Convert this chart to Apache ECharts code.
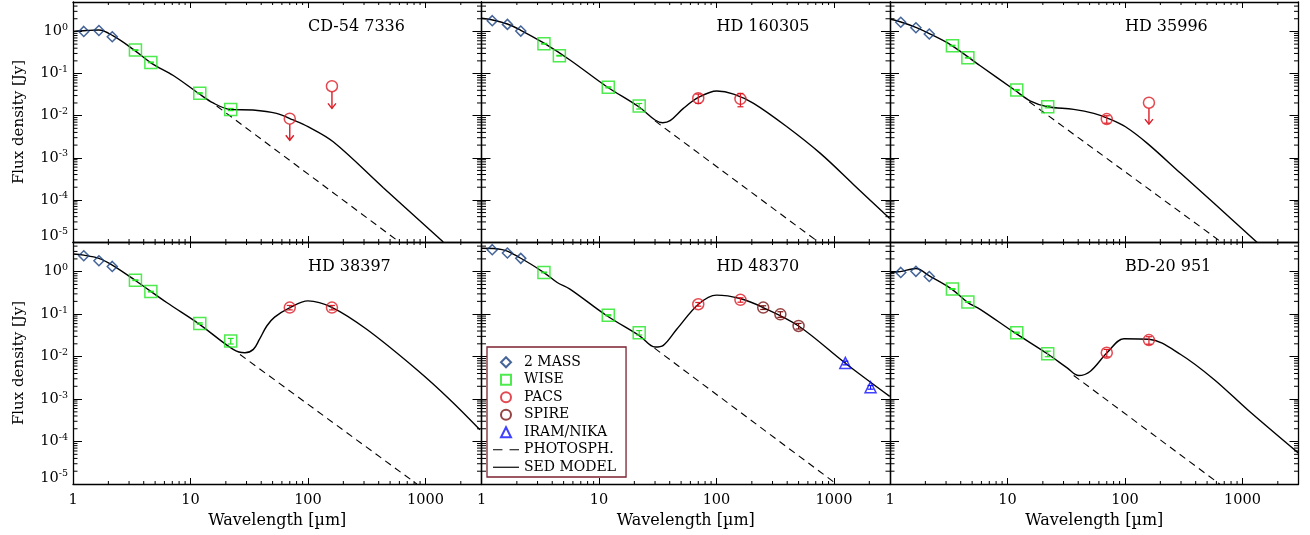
<!DOCTYPE html>
<html>
<head>
<meta charset="utf-8">
<script src="https://cdn.jsdelivr.net/npm/echarts@6/dist/echarts.min.js"></script>
<style>html,body{margin:0;padding:0;background:#fff}#chart{width:1310px;height:535px}</style>
</head>
<body>
<div id="chart"></div>
<script>
// star names, one panel each (row by row)
var stars = ['CD-54 7336', 'HD 160305', 'HD 35996', 'HD 38397', 'HD 48370', 'BD-20 951'];

// photometric bands [micron]
var wl2mass = [1.235, 1.662, 2.159];
var wlWise = [3.4, 4.6, 12, 22];
var wlPacs = [70, 160];
var wlSpire = [250, 350, 500];
var wlNika = [1250, 2050];

// fluxes [Jy], one row per star (null = no point)
var flux2mass = [
  [1.0, 1.05, 0.75],
  [1.8, 1.47, 1.02],
  [1.65, 1.22, 0.87],
  [2.38, 1.81, 1.33],
  [3.3, 2.75, 2.06],
  [0.96, 1.02, 0.77]
];
var fluxWise = [
  [0.36, 0.184, 0.034, 0.014],
  [0.51, 0.265, 0.047, 0.0169],
  [0.46, 0.237, 0.0406, 0.0163],
  [0.63, 0.34, 0.060, 0.0233],
  [0.96, null, 0.094, 0.0366],
  [0.39, 0.194, 0.0366, 0.0117]
];
var fluxPacs = [
  [0.0085, 0.05],
  [0.026, 0.025],
  [0.0083, 0.0203],
  [0.143, 0.143],
  [0.171, 0.217],
  [0.0123, 0.0245]
];
// upper limits: where the arrow tip ends (null = detection)
var pacsLimitTip = [
  [0.0026, 0.0149],
  [null, null],
  [null, 0.0063],
  [null, null],
  [null, null],
  [null, null]
];
var fluxSpire = [null, null, null, null, [0.143, 0.099, 0.0526], null];
var fluxNika = [null, null, null, null, [0.0071, 0.0019], null];

// relative 1-sigma errors
var errWise = [
  [0.02, 0.02, 0.03, 0.06],
  [0.02, 0.02, 0.03, 0.15],
  [0.02, 0.02, 0.03, 0.06],
  [0.02, 0.02, 0.04, 0.15],
  [0.02, null, 0.03, 0.12],
  [0.02, 0.02, 0.03, 0.15]
];
var errPacs = [
  [null, null],
  [0.25, 0.35],
  [0.2, null],
  [0.12, 0.12],
  [0.1, 0.12],
  [0.2, 0.2]
];
var errSpire = [null, null, null, null, [0.1, 0.15, 0.15], null];
var errNika = [null, null, null, null, [0.1, 0.1], null];

// SED model curves [micron, Jy]
var model0 = [[1,1.0],[1.3,1.05],[1.66,1.08],[2.2,0.78],[3.26,0.375],[4.67,0.175],[7.14,0.09],[11.7,0.034],[15.6,0.020],[21.7,0.0141],[34,0.0136],[54,0.0113],[75,0.0079],[100,0.0055],[164,0.0024],[438,1.95e-4],[1419,1e-5]];
var model1 = [[1,2.05],[1.22,1.9],[1.66,1.5],[2.14,1.08],[3.35,0.54],[5.66,0.21],[11.5,0.050],[22.1,0.0158],[30,0.0079],[34.9,0.0068],[40.3,0.0076],[52.3,0.0149],[70.3,0.027],[100.7,0.0384],[140,0.0326],[207,0.0196],[398,0.00545],[766,0.00127],[1472,2.3e-4],[2985,3.6e-5]];
var model2 = [[1,1.97],[1.22,1.7],[1.66,1.25],[2.16,0.89],[3.31,0.475],[5.86,0.153],[11.5,0.0406],[15.7,0.0222],[22,0.0163],[36.6,0.0141],[54.3,0.0113],[75.3,0.0082],[101,0.00545],[155,0.0022],[298,4.27e-4],[573,8.3e-5],[1343,9.6e-6]];
var model3 = [[1,2.6],[1.235,2.45],[1.66,2.06],[2.16,1.43],[3.37,0.63],[6.27,0.188],[11.7,0.060],[23.1,0.0148],[29.1,0.0123],[34.3,0.0148],[38.5,0.025],[44.6,0.0526],[52,0.085],[70.3,0.143],[100,0.205],[161,0.143],[316,0.044],[841,0.00498],[1617,9.7e-4],[2910,1.9e-4]];
var model4 = [[1,3.55],[1.5,3.3],[2.14,2.1],[3.35,0.98],[4.41,0.557],[5.66,0.388],[11.5,0.094],[22.3,0.0305],[30,0.0168],[35.3,0.0184],[45.9,0.044],[70.3,0.171],[100,0.28],[159,0.233],[250,0.143],[500,0.0526],[1250,0.0070],[2985,0.00116]];
var model5 = [[1,0.96],[1.22,1.0],[1.66,1.19],[2.16,0.8],[3.31,0.40],[4.57,0.19],[5.86,0.13],[11.5,0.0366],[22,0.0115],[32.2,0.00545],[40.4,0.00359],[50.8,0.00454],[70.3,0.0123],[98,0.0264],[160,0.0256],[298,0.0112],[573,0.0029],[1106,5.6e-4],[2985,5.4e-5]];
var models = [model0, model1, model2, model3, model4, model5];

// photosphere (where it leaves the model)
var photos = [
  [[16.7,0.017],[600,1.0e-5]],
  [[30,0.0075],[720,1.05e-5]],
  [[15.3,0.0214],[660,1.0e-5]],
  [[26.4,0.0112],[845,1.0e-5]],
  [[29.7,0.0158],[1050,1.0e-5]],
  [[36.6,0.0036],[640,1.0e-5]]
];

// axis ticks
var xDecades = [1, 10, 100, 1000];
var yDecades = [1e-5, 1e-4, 1e-3, 1e-2, 1e-1, 1];
var mant = [2, 3, 4, 5, 6, 7, 8, 9];

var FONT = 'DejaVu Serif';
var C2MASS = '#173f80', CWISE = '#22e622', CPACS = '#dc1c26', CSPIRE = '#7a1414', CNIKA = '#1010ff';

function minorOf(majors, lo, hi) {
  var out = [];
  majors.forEach(function (m) {
    mant.forEach(function (k) {
      var v = m * k;
      if (v > lo && v < hi) out.push(v);
    });
  });
  return out;
}
var xMinor = minorOf(xDecades, 1, 3000);
var yMinor = minorOf(yDecades, 1e-5, 5);
// minor tick specs: [x, y, which axis (0 = x, 1 = y)]
var minorTicks = xMinor.map(function (v) { return [v, 1, 0]; })
  .concat(yMinor.map(function (v) { return [10, v, 1]; }));

function pairs(wl, fl) {
  var out = [];
  if (!fl) return out;
  for (var i = 0; i < wl.length; i++) if (fl[i] != null) out.push([wl[i], fl[i]]);
  return out;
}
function errs(wl, fl, er) {
  var out = [];
  if (!fl || !er) return out;
  for (var i = 0; i < wl.length; i++) {
    if (fl[i] != null && er[i] != null) out.push([wl[i], fl[i] * (1 - er[i]), fl[i] * (1 + er[i])]);
  }
  return out;
}

var gridLeft = [73, 481.5, 890];
var gridTop = [2, 242];
var gridH = [240, 242];
var gridW = 408.5;

var grids = [], xAxes = [], yAxes = [], series = [], titles = [];

function yLabel(v) {
  var lg = Math.log10(v), e = Math.round(lg);
  if (Math.abs(lg - e) > 1e-6) return '';
  if (e === -5) return '{bl|10}{bs|' + e + '}';
  return '{b|10}{s|' + e + '}';
}
function xLabel(v) {
  var lg = Math.log10(v);
  if (Math.abs(lg - Math.round(lg)) > 1e-6) return '';
  return String(Math.round(v));
}

function renderMinor(params, api) {
  var cs = params.coordSys;
  var st = {stroke: '#000', lineWidth: 1};
  if (api.value(2) === 0) {
    var x = api.coord([api.value(0), 1])[0];
    return {type: 'group', children: [
      {type: 'line', shape: {x1: x, y1: cs.y + cs.height, x2: x, y2: cs.y + cs.height - 3}, style: st},
      {type: 'line', shape: {x1: x, y1: cs.y, x2: x, y2: cs.y + 3}, style: st}
    ]};
  }
  var y = api.coord([10, api.value(1)])[1];
  return {type: 'group', children: [
    {type: 'line', shape: {x1: cs.x, y1: y, x2: cs.x + 4.5, y2: y}, style: st},
    {type: 'line', shape: {x1: cs.x + cs.width, y1: y, x2: cs.x + cs.width - 4.5, y2: y}, style: st}
  ]};
}

function makeLimitRenderer(color) {
  return function (params, api) {
    var p = api.coord([api.value(0), api.value(1)]);
    var q = api.coord([api.value(0), api.value(2)]);
    var st = {stroke: color, lineWidth: 1.4, fill: 'none'};
    return {type: 'group', children: [
      {type: 'line', shape: {x1: p[0], y1: p[1] + 5.5, x2: q[0], y2: q[1]}, style: st},
      {type: 'polyline', shape: {points: [[q[0] - 4, q[1] - 5], [q[0], q[1]], [q[0] + 4, q[1] - 5]]}, style: st}
    ]};
  };
}
function makeErrRenderer(color) {
  return function (params, api) {
    var lo = api.coord([api.value(0), api.value(1)]);
    var hi = api.coord([api.value(0), api.value(2)]);
    var st = {stroke: color, lineWidth: 1.2, fill: 'none'};
    var x = lo[0];
    return {type: 'group', children: [
      {type: 'line', shape: {x1: x, y1: lo[1], x2: x, y2: hi[1]}, style: st},
      {type: 'line', shape: {x1: x - 3, y1: lo[1], x2: x + 3, y2: lo[1]}, style: st},
      {type: 'line', shape: {x1: x - 3, y1: hi[1], x2: x + 3, y2: hi[1]}, style: st}
    ]};
  };
}

stars.forEach(function (name, g) {
  var row = g < 3 ? 0 : 1, col = g % 3;
  grids.push({left: gridLeft[col], top: gridTop[row], width: gridW, height: gridH[row]});
  var tickStyle = {color: '#000', width: 1};
  var lineStyle = {color: '#000', width: 1.3};
  ['bottom', 'top'].forEach(function (pos) {
    var main = pos === 'bottom';
    xAxes.push({
      type: 'log', gridIndex: g, min: 1, max: 3000, position: pos,
      axisLine: {show: true, onZero: false, lineStyle: lineStyle},
      axisTick: {inside: true, length: 6, lineStyle: tickStyle},
      axisLabel: {show: main && row === 1, margin: 9, color: '#000', fontFamily: FONT, fontSize: 14.5,
        formatter: xLabel, showMinLabel: true, showMaxLabel: false},
      splitLine: {show: false},
      name: main && row === 1 ? 'Wavelength [\u00b5m]' : '', nameLocation: 'middle', nameGap: 29,
      nameTextStyle: {color: '#000', fontFamily: FONT, fontSize: 16}
    });
  });
  ['left', 'right'].forEach(function (pos) {
    var main = pos === 'left';
    yAxes.push({
      type: 'log', gridIndex: g, min: 1e-5, max: 5, position: pos,
      axisLine: {show: true, onZero: false, lineStyle: lineStyle},
      axisTick: {inside: true, length: 9, lineStyle: tickStyle},
      axisLabel: {show: main && col === 0, margin: 5, color: '#000', formatter: yLabel,
        showMaxLabel: false,
        rich: {
          b: {fontFamily: FONT, fontSize: 14.5, color: '#000'},
          s: {fontFamily: FONT, fontSize: 9.5, color: '#000', padding: [0, 0, 8, 0]},
          bl: {fontFamily: FONT, fontSize: 14.5, color: '#000', padding: [0, 0, 12, 0]},
          bs: {fontFamily: FONT, fontSize: 9.5, color: '#000', padding: [0, 0, 20, 0]}
        }},
      splitLine: {show: false},
      name: main && col === 0 ? 'Flux density [Jy]' : '', nameLocation: 'middle', nameGap: 46,
      nameTextStyle: {color: '#000', fontFamily: FONT, fontSize: 15}
    });
  });

  titles.push({
    text: name, left: gridLeft[col] + 235, top: gridTop[row] + 17, padding: 0,
    textStyle: {color: '#000', fontFamily: FONT, fontSize: 16, fontWeight: 'normal'}
  });

  var xi = 2 * g, yi = 2 * g;
  series.push({
    type: 'custom', xAxisIndex: xi, yAxisIndex: yi, data: minorTicks, z: 1, silent: true,
    renderItem: renderMinor
  });
  series.push({
    name: 'PHOTOSPH.', type: 'line', xAxisIndex: xi, yAxisIndex: yi, data: photos[g],
    symbol: 'none', itemStyle: {color: '#000'}, lineStyle: {color: '#000', width: 1.1, type: [7, 5]}, z: 2, silent: true
  });
  series.push({
    name: 'SED MODEL', type: 'line', xAxisIndex: xi, yAxisIndex: yi, data: models[g],
    symbol: 'none', smooth: 0.35, itemStyle: {color: '#000'}, lineStyle: {color: '#000', width: 1.4}, z: 3, silent: true
  });
  function scatter(sname, sym, size, color, data) {
    series.push({
      name: sname, type: 'scatter', xAxisIndex: xi, yAxisIndex: yi, data: data,
      symbol: sym, symbolSize: size, z: 4, silent: true,
      itemStyle: {color: 'rgba(0,0,0,0)', borderColor: color, borderWidth: 1.5}
    });
  }
  function errorBars(color, data) {
    if (!data.length) return;
    series.push({
      type: 'custom', xAxisIndex: xi, yAxisIndex: yi, data: data, z: 4, silent: true,
      renderItem: makeErrRenderer(color)
    });
  }
  scatter('2 MASS', 'diamond', 10, C2MASS, pairs(wl2mass, flux2mass[g]));
  scatter('WISE', 'rect', 12, CWISE, pairs(wlWise, fluxWise[g]));
  scatter('PACS', 'circle', 11, CPACS, pairs(wlPacs, fluxPacs[g]));
  scatter('SPIRE', 'circle', 11, CSPIRE, pairs(wlSpire, fluxSpire[g]));
  scatter('IRAM/NIKA', 'triangle', 11, CNIKA, pairs(wlNika, fluxNika[g]));
  errorBars(CWISE, errs(wlWise, fluxWise[g], errWise[g]));
  errorBars(CPACS, errs(wlPacs, fluxPacs[g], errPacs[g]));
  errorBars(CSPIRE, errs(wlSpire, fluxSpire[g], errSpire[g]));
  errorBars(CNIKA, errs(wlNika, fluxNika[g], errNika[g]));

  var lims = [];
  for (var i = 0; i < wlPacs.length; i++) {
    if (pacsLimitTip[g][i] != null) lims.push([wlPacs[i], fluxPacs[g][i], pacsLimitTip[g][i]]);
  }
  if (lims.length) {
    series.push({
      type: 'custom', xAxisIndex: xi, yAxisIndex: yi, data: lims, z: 5, silent: true,
      renderItem: makeLimitRenderer(CPACS)
    });
  }
});

var chart = echarts.init(document.getElementById('chart'));
chart.setOption({
  animation: false,
  backgroundColor: '#fff',
  title: titles,
  grid: grids,
  xAxis: xAxes,
  yAxis: yAxes,
  legend: {
    orient: 'vertical', left: 487, top: 347,
    padding: [6.5, 10, 1, 6], itemGap: 0, itemWidth: 26, itemHeight: 10,
    backgroundColor: '#fff', borderColor: '#7b2231', borderWidth: 1.3, borderRadius: 0,
    textStyle: {color: '#000', fontFamily: FONT, fontSize: 14, lineHeight: 17.5},
    selectedMode: false, symbolKeepAspect: true,
    data: [
      {name: '2 MASS', icon: 'path://M5,0L10,5L5,10L0,5Z'},
      {name: 'WISE', icon: 'path://M0,0H10V10H0Z'},
      {name: 'PACS', icon: 'circle'},
      {name: 'SPIRE', icon: 'circle'},
      {name: 'IRAM/NIKA', icon: 'path://M5,0L10,10H0Z'},
      {name: 'PHOTOSPH.', icon: 'path://M0,0H8V1H0Z M14,0H22V1H14Z'},
      {name: 'SED MODEL', icon: 'path://M0,0H22V1H0Z'}
    ]
  },
  series: series
});
</script>
</body>
</html>
